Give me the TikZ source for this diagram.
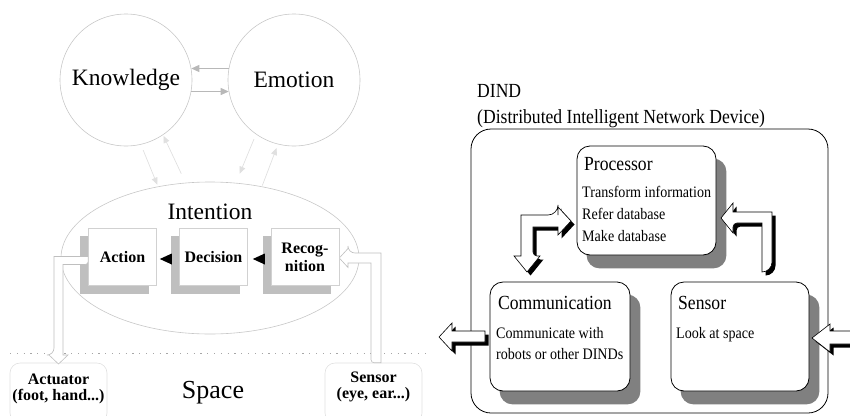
\documentclass[tikz,border=0pt]{standalone}
\usepackage{fontspec}
\setmainfont{Liberation Serif}
\newfontfamily\condfont[FakeStretch=0.88]{Liberation Serif}
\usetikzlibrary{shapes.geometric,arrows.meta}
\newcommand\tdarrow[1]{%
  \fill[black,shift={(3.5,3.5)}] #1;
  \filldraw[fill=white,draw=black,line width=0.6pt] #1;}
\begin{document}
\begin{tikzpicture}[x=1pt,y=-1pt,
  circ/.style={circle,draw=black!22,line width=0.6pt,minimum size=132pt,inner sep=0pt,font=\fontsize{23.5}{26}\selectfont},
  ell/.style={ellipse,draw=black!22,line width=0.6pt,minimum width=298pt,minimum height=152pt,inner sep=0pt},
  lbox/.style={rectangle,draw=black!18,fill=white,line width=0.6pt,minimum width=68pt,minimum height=57pt,inner sep=0pt,font=\bfseries\fontsize{16}{17}\selectfont,align=center},
  lshadow/.style={fill=black!25},
  kearrow/.style={draw=black!28,line width=0.7pt,-{Triangle[length=8pt,width=7pt]}},
  diagarrow/.style={draw=black!12,line width=0.7pt,-{Triangle[length=7pt,width=6pt]}},
  hollow/.style={draw=black!25,fill=white,line width=0.6pt},
  spacebox/.style={rectangle,rounded corners=10pt,draw=black!12,fill=white,line width=0.6pt,minimum width=97pt,minimum height=60pt,inner sep=0pt},
  spacetxt/.style={font=\bfseries\fontsize{16}{16}\selectfont,align=center,inner sep=0pt},
  rbox/.style={rectangle,rounded corners=13pt,draw=black,fill=white,line width=0.8pt,inner sep=0pt},
  rshadow/.style={fill=black!50,rounded corners=13pt},
  rtitle/.style={anchor=base west,inner sep=0pt,font=\condfont\fontsize{20}{22}\selectfont},
  rbody/.style={anchor=base west,inner sep=0pt,font=\condfont\fontsize{16}{20}\selectfont}
]
\useasboundingbox (0,0) rectangle (850,415);
\clip (0,0) rectangle (850,415);

% ---------------- left panel ----------------
\node[circ] (know) at (126,80) {Knowledge};
\node[circ] (emo) at (294,80) {Emotion};
\node[ell] (intent) at (210,258) {};
\node[inner sep=0pt,font=\fontsize{23.5}{26}\selectfont] (intentlbl) at (210,212) {Intention};

\draw[kearrow] (emo.170) -- (know.10);
\draw[kearrow] (know.-10) -- (emo.190);

\draw[diagarrow,shorten <=6pt,shorten >=2pt] (know.-77) -- (intent.126);
\draw[diagarrow,shorten <=10pt,shorten >=1pt] (intent.108) -- (know.-56);
\draw[diagarrow,shorten <=5pt,shorten >=10pt] (emo.-125) -- (intent.71);
\draw[diagarrow,shorten <=1pt,shorten >=4pt] (intent.54) -- (emo.-104);

% dotted boundary of space
\coordinate (dotL) at (10,353);
\coordinate (dotR) at (425,353);
\draw[black!35,line width=0.8pt,dash pattern=on 1.2pt off 5.6pt] (dotL) -- (dotR);

% boxes of intention (positions only; drawn after shadows)
\path (122.5,257) node[lbox,draw=none,fill=none] (act) {}
      (213.5,257) node[lbox,draw=none,fill=none] (dec) {}
      (305,257)   node[lbox,draw=none,fill=none] (rec) {};
\fill[lshadow] ([shift={(-8,8)}]act.north west) rectangle ([shift={(-8,8)}]act.south east);
\fill[lshadow] ([shift={(-8,8)}]dec.north west) rectangle ([shift={(-8,8)}]dec.south east);
\fill[lshadow] ([shift={(-8,8)}]rec.north west) rectangle ([shift={(-8,8)}]rec.south east);

% space boxes
\node[spacebox] (actbox) at (58.5,393) {};
\node[spacebox] (sensbox) at (373.5,393) {};
\node[spacetxt] (acttxt) at (58.5,389) {Actuator\\(foot, hand...)};
\node[spacetxt] (senstxt) at (373.5,387) {Sensor\\(eye, ear...)};
\node[inner sep=0pt,anchor=base,font=\fontsize{26}{28}\selectfont] (space) at (213,398) {Space};

% hollow arrows
\draw[hollow] ([shift={(0,-0.5)}]act.west) -- (54,256.5) [rounded corners=7pt] -- (54,355) [sharp corners]
   -- (49,355) -- (58.5,364) -- (68,355) -- (63,355) -- (63,264.5) [rounded corners=3pt]
   -- ([shift={(0,7.5)}]act.west) [sharp corners] -- cycle;
\draw[hollow] ([shift={(7.5,0)}]sensbox.north) -- (381,253) [rounded corners=7pt] -- (348,253) [sharp corners]
   -- (348,248.5) -- (rec.east |- 0,258) -- (348,267.5) -- (348,263) -- (371,263) [rounded corners=3pt]
   -- ([shift={(-2.5,0)}]sensbox.north) [sharp corners] -- cycle;

% front boxes
\node[lbox] (act2) at (act) {Action};
\node[lbox] (dec2) at (dec) {Decision};
\node[lbox,font=\bfseries\fontsize{16}{18}\selectfont] (rec2) at (rec) {Recog-\\nition};

% black arrowheads between boxes
\fill[black] ([shift={(3,2)}]act.east) -- ++(12,-5.5) -- ++(0,11) -- cycle;
\fill[black] ([shift={(5,2)}]dec.east) -- ++(12,-5.5) -- ++(0,11) -- cycle;

% ---------------- right panel ----------------
\node[rtitle] (dindt) at (477,97) {DIND};
\node[rtitle] (dindfull) at (477,123) {(Distributed Intelligent Network Device)};
\node[draw=black,line width=0.8pt,rounded corners=20pt,minimum width=357pt,minimum height=284pt,inner sep=0pt] (dind) at (649.5,271) {};

\path (646.5,200.5) node[rbox,draw=none,fill=none,minimum width=139pt,minimum height=109pt] (proc) {}
      (560,336.5)   node[rbox,draw=none,fill=none,minimum width=140pt,minimum height=109pt] (comm) {}
      (740,336.5)   node[rbox,draw=none,fill=none,minimum width=138pt,minimum height=109pt] (sens) {};
\fill[rshadow] ([shift={(10,13)}]proc.south west) rectangle ([shift={(10,13)}]proc.north east);
\fill[rshadow] ([shift={(10,13)}]comm.south west) rectangle ([shift={(10,13)}]comm.north east);
\fill[rshadow] ([shift={(10,13)}]sens.south west) rectangle ([shift={(10,13)}]sens.north east);
\node[rbox,minimum width=139pt,minimum height=109pt] (proc2) at (proc) {};
\node[rbox,minimum width=140pt,minimum height=109pt] (comm2) at (comm) {};
\node[rbox,minimum width=138pt,minimum height=109pt] (sens2) at (sens) {};

\node[rtitle] (proct) at (584,170) {Processor};
\node[rbody] (proc1) at (582,197) {Transform information};
\node[rbody] (proc3) at (582,219) {Refer database};
\node[rbody] (proc4) at (582,241) {Make database};

\node[rtitle] (commt) at (498,309) {Communication};
\node[rbody] (comm1) at (496,338) {Communicate with};
\node[rbody] (comm3) at (496,359) {robots or other DINDs};

\node[rtitle] (senst) at (678,309) {Sensor};
\node[rbody] (sens1) at (676,338) {Look at space};

% 3D arrows
\tdarrow{(558,215) -- (558,207) -- (571,221) -- (558,235) -- (558,227) -- (533,227) [rounded corners=4pt] -- (533,256) [sharp corners] -- (540,256) -- (527,272) -- (514,256) -- (521,256) -- (521,215) [rounded corners=10pt] -- (558,215) [sharp corners] -- cycle}
\tdarrow{(721,218) -- (733,203) -- (733,212) -- (772,212) [rounded corners=10pt] -- (772,272) [sharp corners] -- (762,272) -- (762,223) [rounded corners=4pt] -- (733,223) [sharp corners] -- (733,233) -- cycle}
\tdarrow{(439,337) -- (452,323) -- (452,331) -- (485,331) -- (485,342) -- (452,342) -- (452,351) -- cycle}
\tdarrow{(812,338) -- (830,324) -- (830,331) -- (858,331) -- (858,344) -- (830,344) -- (830,352) -- cycle}
\end{tikzpicture}
\end{document}
